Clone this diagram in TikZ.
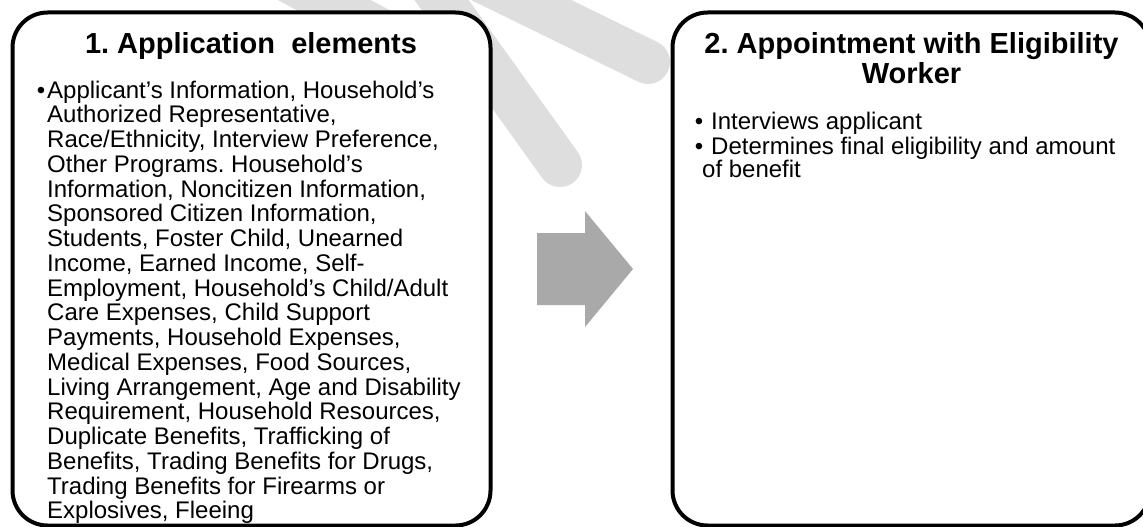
\documentclass[tikz,border=0pt]{standalone}
\usepackage{fontspec}
\setmainfont{Liberation Sans}
\frenchspacing
\definecolor{wmark}{HTML}{DEDEDE}
\definecolor{arrowgray}{HTML}{A9A9A9}
\tikzset{
  panel/.style={draw=black, line width=4pt, fill=white, rounded corners=35pt, inner sep=0pt},
  wstroke/.style={draw=wmark, line width=44pt, line cap=round},
  titletext/.style={font=\fontsize{29}{29}\selectfont\bfseries, inner sep=0pt, anchor=base},
  bodytext/.style={font=\fontsize{24}{24}\selectfont, inner sep=0pt, anchor=base west},
  flowarrow/.style={fill=arrowgray, draw=none}
}
\begin{document}
\begin{tikzpicture}[x=1pt,y=-1pt]
\useasboundingbox (0,0) rectangle (1143,527);
\clip (0,0) rectangle (1143,527);
% faint background watermark strokes
\draw[wstroke] (250,-40) -- (380,30);
\draw[wstroke] (420,-30) -- (560,165);
\draw[wstroke] (470,-25) -- (648,62);
% panels
\node[panel, minimum width=478pt, minimum height=513pt] (box1) at (251.5,269) {};
\node[panel, minimum width=477.5pt, minimum height=513pt] (box2) at (911.25,269) {};
% arrow between panels
\coordinate (a1) at (537,233);
\coordinate (a2) at (585,233);
\coordinate (a3) at (585,211);
\coordinate (a4) at (633,269);
\coordinate (a5) at (585,327);
\coordinate (a6) at (585,305);
\coordinate (a7) at (537,305);
\fill[flowarrow] (a1) -- (a2) -- (a3) -- (a4) -- (a5) -- (a6) -- (a7) -- cycle;
% titles
\node[titletext] (t1) at (251,54) {1. Application\ \ elements};
\node[titletext] (t2a) at (911.5,54) {2. Appointment with Eligibility};
\node[titletext] (t2b) at (911.5,83) {Worker};
% left body
\node[bodytext, anchor=base] (b1) at (41,98) {\textbullet};
\foreach \t [count=\i from 0] in {
 {Applicant’s Information, Household’s},
 {Authorized Representative,},
 {Race/Ethnicity, Interview Preference,},
 {Other Programs. Household’s},
 {Information, Noncitizen Information,},
 {Sponsored Citizen Information,},
 {Students, Foster Child, Unearned},
 {Income, Earned Income, Self-},
 {Employment, Household’s Child/Adult},
 {Care Expenses, Child Support},
 {Payments, Household Expenses,},
 {Medical Expenses, Food Sources,},
 {Living Arrangement, Age and Disability},
 {Requirement, Household Resources,},
 {Duplicate Benefits, Trafficking of},
 {Benefits, Trading Benefits for Drugs,},
 {Trading Benefits for Firearms or},
 {Explosives, Fleeing}}
 \node[bodytext] (l\i) at (47,98+24.75*\i) {\t};
% right body
\node[bodytext, anchor=base] (r0) at (699,129) {\textbullet};
\node[bodytext] (r1) at (711,129) {Interviews applicant};
\node[bodytext, anchor=base] (r2) at (699,154) {\textbullet};
\node[bodytext] (r3) at (711,154) {Determines final eligibility and amount};
\node[bodytext] (r4) at (702,177) {of benefit};
\end{tikzpicture}
\end{document}
